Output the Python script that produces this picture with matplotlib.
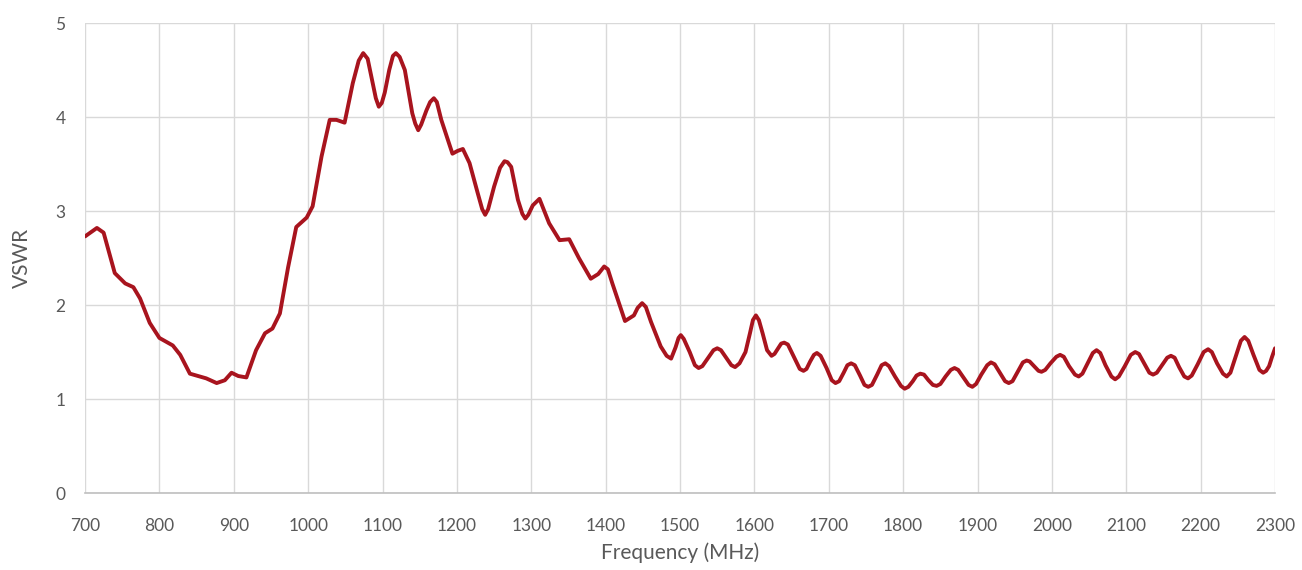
import matplotlib.pyplot as plt

# 读取图中曲线的近似数据点 (MHz, VSWR)
freq = [700, 716, 725, 740, 754, 765, 774, 787, 800, 818, 828, 841, 854, 863, 877, 888,
        897, 906, 917, 930, 942, 952, 962, 973, 984, 998, 1006, 1018, 1029, 1038, 1049,
        1060, 1068, 1074, 1080, 1085, 1091, 1095, 1099, 1103, 1109, 1114, 1118, 1123,
        1130, 1140, 1144, 1148, 1152, 1159, 1164, 1169, 1173, 1179, 1194, 1201, 1208,
        1217, 1228, 1234, 1238, 1242, 1250, 1258, 1264, 1268, 1273, 1282, 1288, 1292,
        1296, 1302, 1311, 1324, 1338, 1351, 1364, 1380, 1390, 1398, 1403, 1409, 1426,
        1438, 1443, 1449, 1454, 1461, 1474, 1482, 1488, 1494, 1498, 1501, 1505, 1513,
        1520, 1525, 1530, 1538, 1545, 1550, 1555, 1562, 1569, 1574, 1580, 1588, 1594,
        1598, 1602, 1606, 1611, 1617, 1623, 1627, 1632, 1636, 1640, 1645, 1653, 1661,
        1666, 1670, 1675, 1680, 1684, 1689, 1697, 1704, 1709, 1714, 1720, 1725, 1730,
        1735, 1742, 1748, 1753, 1758, 1765, 1771, 1776, 1781, 1789, 1797, 1802, 1807,
        1813, 1818, 1823, 1828, 1834, 1840, 1845, 1850, 1857, 1864, 1869, 1874, 1881,
        1888, 1893, 1898, 1905, 1913, 1918, 1923, 1930, 1937, 1942, 1947, 1954, 1961,
        1966, 1970, 1976, 1982, 1986, 1991, 1998, 2006, 2011, 2016, 2023, 2031, 2036,
        2041, 2048, 2055, 2060, 2065, 2072, 2080, 2085, 2090, 2098, 2106, 2112, 2117,
        2124, 2131, 2136, 2141, 2148, 2155, 2160, 2165, 2171, 2178, 2183, 2188, 2196,
        2204, 2210, 2215, 2222, 2230, 2235, 2240, 2247, 2254, 2259, 2264, 2271, 2279,
        2284, 2288, 2292, 2296, 2300]
vswr = [2.73, 2.82, 2.77, 2.34, 2.23, 2.19, 2.07, 1.81, 1.65, 1.57, 1.47, 1.27, 1.24, 1.22,
        1.17, 1.20, 1.28, 1.245, 1.23, 1.52, 1.70, 1.75, 1.91, 2.40, 2.83, 2.93, 3.05, 3.58,
        3.97, 3.97, 3.94, 4.36, 4.60, 4.68, 4.62, 4.43, 4.20, 4.11, 4.15, 4.26, 4.50, 4.65,
        4.68, 4.64, 4.50, 4.04, 3.93, 3.86, 3.92, 4.07, 4.16, 4.20, 4.16, 3.97, 3.61, 3.64,
        3.66, 3.51, 3.19, 3.02, 2.96, 3.02, 3.26, 3.46, 3.53, 3.52, 3.47, 3.12, 2.97, 2.92,
        2.96, 3.06, 3.13, 2.87, 2.69, 2.70, 2.50, 2.28, 2.33, 2.41, 2.38, 2.23, 1.83, 1.89,
        1.97, 2.02, 1.98, 1.82, 1.56, 1.46, 1.43, 1.55, 1.65, 1.68, 1.64, 1.50, 1.36, 1.33,
        1.35, 1.44, 1.52, 1.54, 1.52, 1.44, 1.36, 1.34, 1.38, 1.50, 1.70, 1.84, 1.89, 1.84,
        1.70, 1.52, 1.46, 1.48, 1.54, 1.59, 1.60, 1.58, 1.45, 1.32, 1.30, 1.32, 1.40, 1.47,
        1.49, 1.46, 1.33, 1.20, 1.17, 1.19, 1.28, 1.36, 1.38, 1.36, 1.25, 1.15, 1.13, 1.15,
        1.26, 1.36, 1.38, 1.35, 1.24, 1.14, 1.11, 1.13, 1.19, 1.25, 1.27, 1.26, 1.20, 1.15,
        1.14, 1.16, 1.24, 1.31, 1.33, 1.31, 1.23, 1.15, 1.13, 1.16, 1.26, 1.36, 1.39, 1.37,
        1.28, 1.19, 1.17, 1.19, 1.29, 1.39, 1.41, 1.40, 1.35, 1.30, 1.29, 1.31, 1.38, 1.45,
        1.47, 1.45, 1.35, 1.26, 1.24, 1.27, 1.38, 1.49, 1.52, 1.49, 1.36, 1.24, 1.21, 1.24,
        1.35, 1.47, 1.50, 1.48, 1.38, 1.28, 1.26, 1.28, 1.36, 1.44, 1.46, 1.44, 1.34, 1.24,
        1.22, 1.25, 1.37, 1.50, 1.53, 1.50, 1.38, 1.27, 1.24, 1.28, 1.45, 1.62, 1.66, 1.62,
        1.47, 1.31, 1.28, 1.30, 1.35, 1.45, 1.54]
xticks = list(range(700, 2301, 100))
yticks = [0, 1, 2, 3, 4, 5]

plt.rcParams['font.family'] = ['Lato', 'DejaVu Sans']
fig = plt.figure(figsize=(13.02, 5.7), dpi=100)
ax = fig.add_axes([0.0653, 0.135, 0.9140, 0.8246])

ax.plot(freq, vswr, color='#A8141E', linewidth=2.8, solid_joinstyle='round',
        solid_capstyle='round', zorder=3)

ax.set_xlim(700, 2300)
ax.set_ylim(0, 5)
ax.set_xticks(xticks)
ax.set_yticks(yticks)
ax.grid(True, color='#d9d9d9', linewidth=1.0)
ax.set_axisbelow(True)
for s in ['top', 'right', 'left']:
    ax.spines[s].set_visible(False)
ax.spines['bottom'].set_color('#bfbfbf')
ax.spines['bottom'].set_linewidth(1.2)
ax.tick_params(length=0, labelsize=12.5, colors='#595959')
ax.tick_params(axis='x', pad=18)
ax.tick_params(axis='y', pad=14)

ax.set_xlabel('Frequency (MHz)', fontsize=15, color='#595959', labelpad=6)
ax.set_ylabel('VSWR', fontsize=15, color='#595959', labelpad=17)

plt.savefig('out.png', dpi=100)
